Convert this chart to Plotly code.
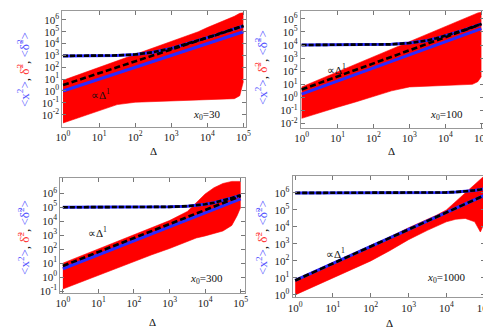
import numpy as np
import plotly.graph_objects as go

W, H = 491, 330
FONT = "Liberation Serif"
RED = "#ff0000"
BLUE = "#2a2aff"

# log10(Delta) sample points shared by all panels
DELTA_EXP = [0, 0.5, 1, 1.5, 2, 2.5, 3, 3.5, 3.75, 4, 4.25, 4.5, 4.75, 4.9, 5]
LINE_EXP = [0, 5]

X0_LABELS = ["30", "100", "300", "1000"]

# values stored as log10 of the plotted quantity
FAN_TOP = [
    [0.9, 1.45, 2.0, 2.55, 3.1, 3.65, 4.2, 4.75, 5.0, 5.35, 5.65, 5.95, 6.3, 6.55, 6.6],
    [0.8, 1.38, 1.95, 2.53, 3.1, 3.68, 4.25, 4.83, 5.1, 5.4, 5.7, 5.98, 6.25, 6.45, 6.5],
    [1.0, 1.5, 2.0, 2.5, 3.05, 3.55, 4.05, 4.7, 5.3, 5.95, 6.4, 6.7, 6.85, 6.85, 6.85],
    [0.9, 1.4, 1.9, 2.4, 2.9, 3.4, 3.95, 4.45, 4.7, 5.0, 5.5, 6.0, 6.5, 6.85, 7.0],
]
FAN_BOTTOM = [
    [-2.7, -2.2, -1.65, -1.15, -0.95, -0.9, -0.85, -0.82, -0.8, -0.78, -0.75, -0.72, -0.65, -0.4, 0.8],
    [-1.6, -1.15, -0.75, -0.35, 0.05, 0.5, 0.8, 0.85, 0.87, 0.9, 0.92, 0.95, 1.0, 1.2, 1.6],
    [-0.85, -0.35, 0.15, 0.6, 1.1, 1.6, 2.05, 2.55, 2.8, 2.95, 3.1, 3.3, 3.7, 4.4, 5.0],
    [0.0, 0.5, 1.0, 1.5, 2.0, 2.6, 3.25, 3.8, 4.05, 4.3, 4.45, 4.5, 4.3, 3.7, 4.2],
]
PLATEAU = [
    [2.96, 2.96, 2.97, 3.0, 3.08, 3.27, 3.59, 4.02, 4.25, 4.49, 4.73, 4.98, 5.23, 5.38, 5.48],
    [4.0, 4.0, 4.0, 4.01, 4.02, 4.05, 4.15, 4.35, 4.51, 4.7, 4.91, 5.13, 5.37, 5.52, 5.61],
    [5.0, 5.0, 5.0, 5.0, 5.0, 5.01, 5.03, 5.08, 5.13, 5.21, 5.33, 5.48, 5.66, 5.78, 5.86],
    [6.0, 6.0, 6.0, 6.0, 6.0, 6.0, 6.0, 6.01, 6.02, 6.03, 6.05, 6.09, 6.15, 6.2, 6.24],
]
DASHED = [[0.5, 5.5], [0.6, 5.6], [0.8, 5.8], [0.85, 5.85]]
BLUE_LINE = [[0.0, 5.0], [0.25, 5.25], [0.6, 5.6], [0.85, 5.85]]

Y_TICK_EXP = [list(range(-2, 7)), list(range(-2, 7)), list(range(-1, 7)), list(range(0, 7))]
X_TICK_EXP = [0, 1, 2, 3, 4, 5]

# panel frames in pixels: left, right, top, bottom
FRAMES = [(48.7, 237.3, 3, 120), (294.3, 482.3, 3, 121),
          (46.7, 236.7, 172, 288), (285.7, 483.7, 170, 293)]
Y_RANGES = [[-3.0, 6.75], [-2.3, 6.6], [-1.1, 7.1], [-0.15, 7.0]]
X_RANGES = [[-0.02, 5.06], [-0.02, 5.06], [-0.07, 5.12], [-0.07, 5.02]]


def px(x, y):
    return x / W, 1 - y / H


fig = go.Figure()
delta = 10 ** np.array(DELTA_EXP)
dline = 10 ** np.array(LINE_EXP)

for i in range(4):
    n = "" if i == 0 else str(i + 1)
    xa, ya = "x" + n, "y" + n
    fig.add_trace(go.Scatter(x=delta, y=10 ** np.array(FAN_BOTTOM[i]), xaxis=xa, yaxis=ya,
                             mode="lines", line=dict(color=RED, width=0.6), showlegend=False))
    fig.add_trace(go.Scatter(x=delta, y=10 ** np.array(FAN_TOP[i]), xaxis=xa, yaxis=ya,
                             mode="lines", line=dict(color=RED, width=0.6), fill="tonexty",
                             fillcolor=RED, showlegend=False))
    fig.add_trace(go.Scatter(x=delta, y=10 ** np.array(PLATEAU[i]), xaxis=xa, yaxis=ya,
                             mode="lines", line=dict(color=BLUE, width=3), showlegend=False))
    fig.add_trace(go.Scatter(x=dline, y=10 ** np.array(BLUE_LINE[i]), xaxis=xa, yaxis=ya,
                             mode="lines", line=dict(color=BLUE, width=3), showlegend=False))
    fig.add_trace(go.Scatter(x=delta, y=10 ** np.array(PLATEAU[i]), xaxis=xa, yaxis=ya,
                             mode="lines", line=dict(color="black", width=2.6, dash="5px,2px"),
                             showlegend=False))
    fig.add_trace(go.Scatter(x=dline, y=10 ** np.array(DASHED[i]), xaxis=xa, yaxis=ya,
                             mode="lines", line=dict(color="black", width=2.6, dash="6px,3px"),
                             showlegend=False))

    left, right, top, bottom = FRAMES[i]
    axis_common = dict(type="log", showgrid=False, zeroline=False, showline=True,
                       linecolor="#999999", linewidth=1, mirror="allticks", ticks="inside",
                       ticklen=4, tickcolor="#777777",
                       tickfont=dict(family=FONT, size=11, color="#222222"))
    fig.update_layout({
        "xaxis" + n: dict(axis_common, domain=[left / W, right / W], range=X_RANGES[i],
                          anchor=ya, tickvals=[10 ** k for k in X_TICK_EXP],
                          ticktext=[f"10<sup>{k}</sup>" for k in X_TICK_EXP]),
        "yaxis" + n: dict(axis_common, domain=[1 - bottom / H, 1 - top / H], range=Y_RANGES[i],
                          anchor=xa, tickvals=[10 ** k for k in Y_TICK_EXP[i]],
                          ticktext=[f"10<sup>{k}</sup>" for k in Y_TICK_EXP[i]]),
    })

ylabel = ("<span style='color:#5555ff'>&lt;x<sup>2</sup>&gt;</span>, "
          "<span style='color:#ff3333'>δ̃<sup>2</sup></span>, "
          "<span style='color:#5555ff'>&lt;δ̃<sup>2</sup>&gt;</span>")

notes = []
for (x, y) in [(143, 145), (388, 145), (142, 318), (385, 319)]:
    notes.append((x, y, "Δ", 11, 0))
for (x, y) in [(9, 62), (254, 60), (9, 232), (254, 232)]:
    notes.append((x, y, ylabel, 13, -90))
for (x, y) in [(88, 87), (331, 62), (85, 227), (330, 248)]:
    notes.append((x, y, "∝Δ<sup>1</sup>", 11, 0))
for (x, y), lab in zip([(197, 108), (444, 108), (197, 274), (444, 273)], X0_LABELS):
    notes.append((x, y, f"<i>x</i><sub>0</sub>={lab}", 11, 0))

for x, y, text, size, angle in notes:
    xp, yp = px(x, y)
    fig.add_annotation(x=xp, y=yp, xref="paper", yref="paper", text=text, showarrow=False,
                       textangle=angle, xanchor="center", yanchor="middle",
                       font=dict(family=FONT, size=size, color="#111111"))

fig.update_layout(width=W, height=H, margin=dict(l=0, r=0, t=0, b=0),
                  paper_bgcolor="white", plot_bgcolor="white",
                  font=dict(family=FONT))
fig.write_html("out.html")
